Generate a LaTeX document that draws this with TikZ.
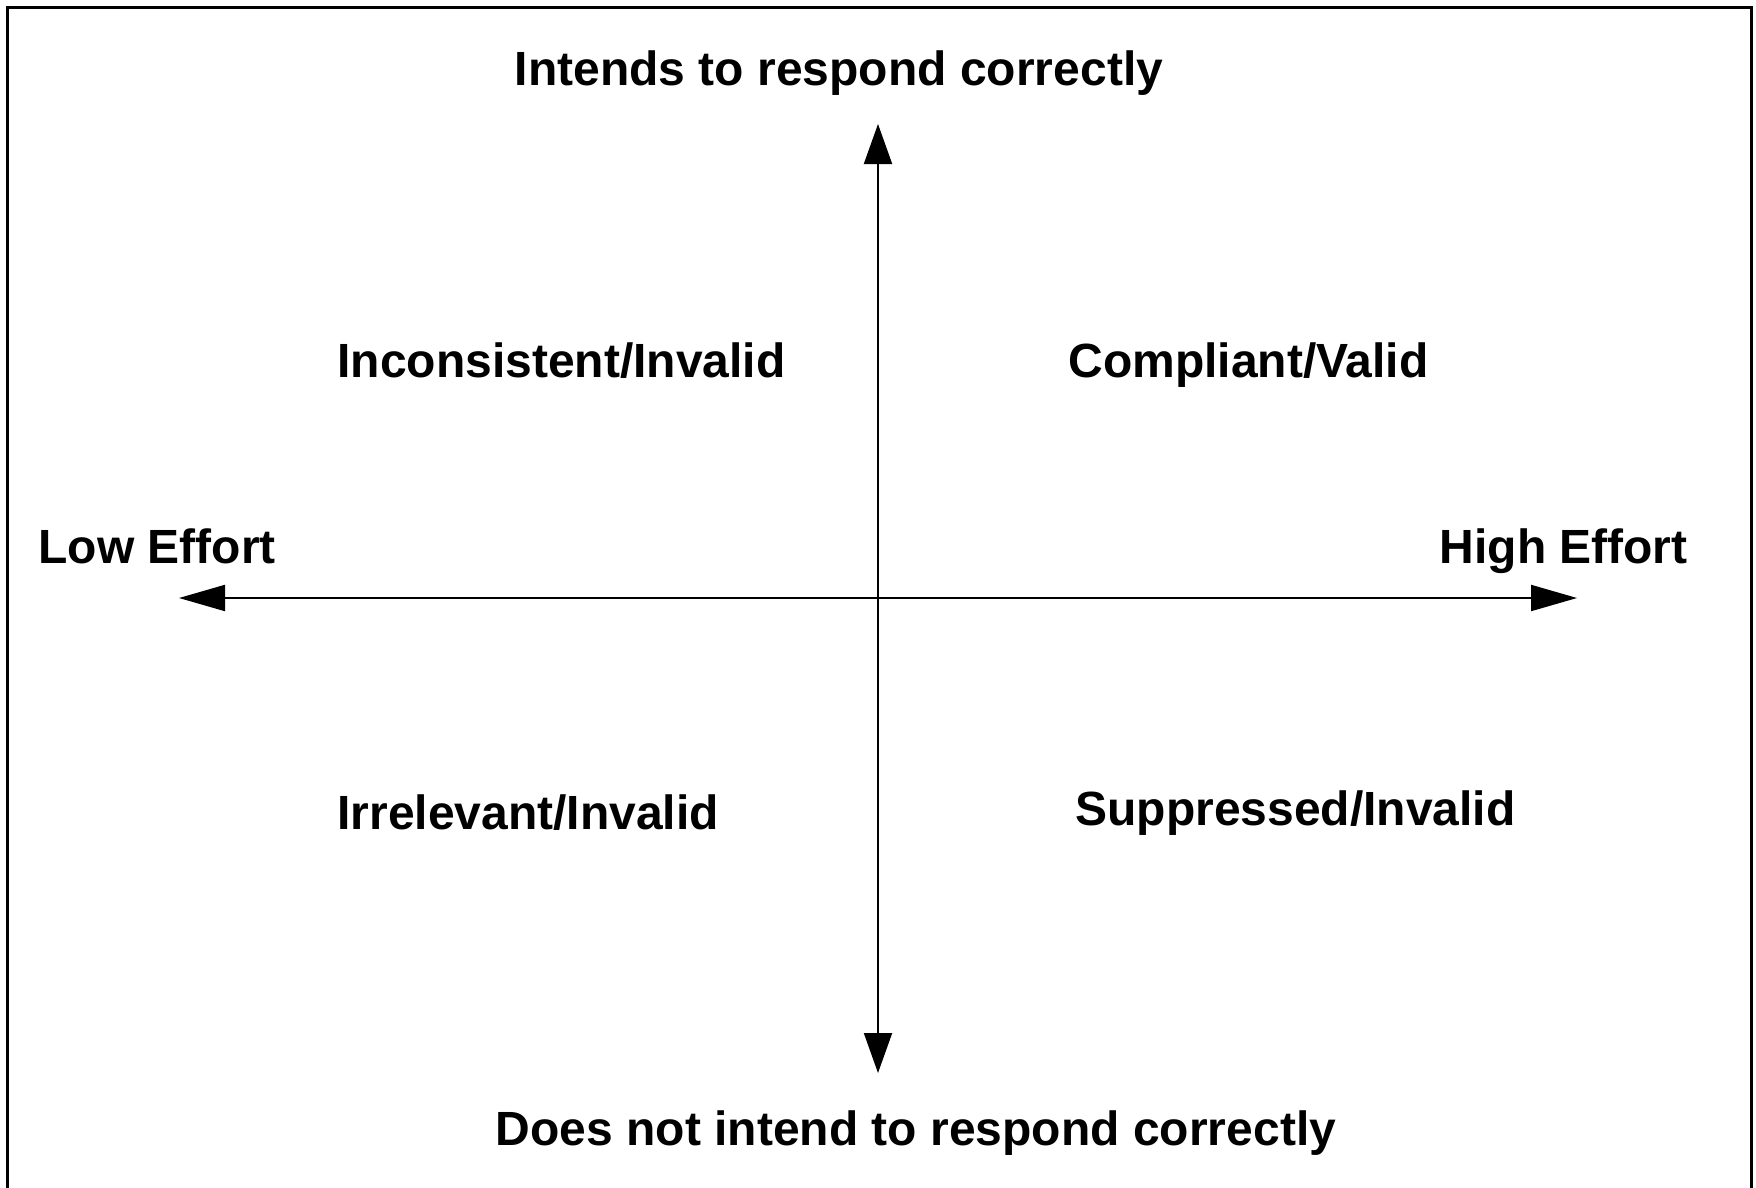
\documentclass[tikz,border=0pt]{standalone}
\usepackage{fontspec}
\setmainfont{Liberation Sans}
\usetikzlibrary{arrows.meta}
\begin{document}
\begin{tikzpicture}[x=0.5pt,y=-0.5pt,
  lab/.style={inner sep=0pt,font=\fontsize{24pt}{28pt}\selectfont\bfseries},
  vaxis/.style={line width=1pt,{Triangle[length=20pt,width=14pt]}-{Triangle[length=20pt,width=14pt]}},
  haxis/.style={line width=1pt,{Triangle[length=23pt,width=13pt]}-{Triangle[length=23pt,width=13pt]}}]
\useasboundingbox (0,0) rectangle (1756,1188);
\fill[white] (0,0) rectangle (1756,1188);
\draw[line width=1.5pt] (7,1188) -- (7,7.5) -- (1751,7.5) -- (1751,1188);
\coordinate (top) at (878,124);
\coordinate (bot) at (878,1073);
\coordinate (lft) at (179,598);
\coordinate (rgt) at (1577,598);
\draw[vaxis] (top) -- (bot);
\draw[haxis] (lft) -- (rgt);
\node[lab,anchor=base] (t) at (839,86) {Intends to respond correctly};
\node[lab,anchor=base] (b) at (916,1145) {Does not intend to respond correctly};
\node[lab,anchor=base west] (q1) at (337,377) {Inconsistent/Invalid};
\node[lab,anchor=base west] (q2) at (1068,377) {Compliant/Valid};
\node[lab,anchor=base west] (le) at (38,563) {Low Effort};
\node[lab,anchor=base east] (he) at (1688,563) {High Effort};
\node[lab,anchor=base west] (q3) at (337,829) {Irrelevant/Invalid};
\node[lab,anchor=base west] (q4) at (1075,825) {Suppressed/Invalid};
\end{tikzpicture}
\end{document}
